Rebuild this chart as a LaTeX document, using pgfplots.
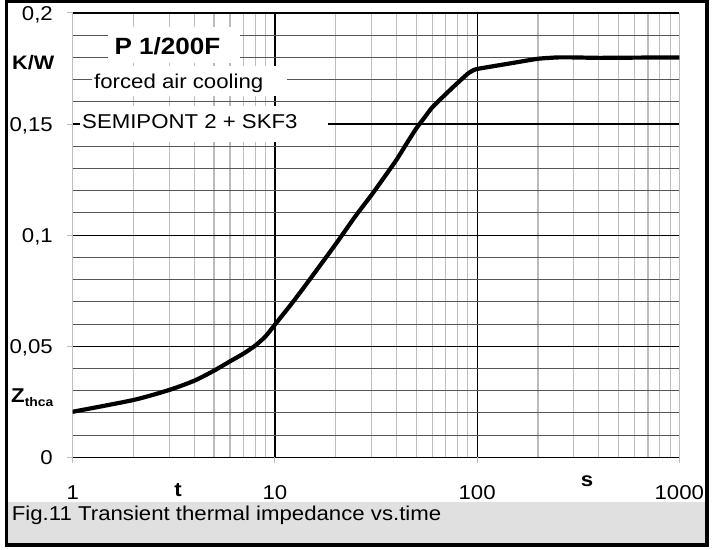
\documentclass[border=0pt]{standalone}
\usepackage{fontspec}
\setmainfont{Liberation Sans}[FakeStretch=1.11]
\usepackage{pgfplots}
\pgfplotsset{compat=1.18}
\definecolor{capgray}{HTML}{E0E0E0}
\definecolor{minorx}{HTML}{BDBDBD}
\definecolor{minory}{HTML}{555555}
\begin{document}
\begin{tikzpicture}[x=1bp,y=1bp]
\useasboundingbox (0,0) rectangle (716,550);
\fill[capgray] (6.7,5) rectangle (707,48.3);
\begin{axis}[
  at={(72.7bp,92.7bp)}, anchor=south west,
  scale only axis, width=606.6bp, height=444.3bp,
  xmode=log, xmin=1, xmax=1000, ymin=0, ymax=0.2,
  axis line style={draw=none},
  xtick={10,100}, xticklabels={10,100},
  extra x ticks={1,1000}, extra x tick labels={1,1000},
  extra x tick style={major grid style={color=minorx, line width=1.1bp}},
  minor xtick={2,3,4,5,6,7,8,9,20,30,40,50,60,70,80,90,200,300,400,500,600,700,800,900},
  ytick={0,0.05,0.1,0.15,0.2}, yticklabels={0,{0,05},{0,1},{0,15},{0,2}},
  minor ytick={0.01,0.02,0.03,0.04,0.06,0.07,0.08,0.09,0.11,0.12,0.13,0.14,0.16,0.17,0.18,0.19},
  grid=both,
  major grid style={black, line width=1.2bp},
  minor x grid style={minorx, line width=1.1bp},
  minor y grid style={minory, line width=0.9bp},
  tick align=outside, major tick length=6bp, minor tick length=0pt,
  xtick pos=bottom, ytick pos=left,
  tick style={color=minorx, line width=1bp},
  ticklabel style={font=\fontsize{20bp}{24bp}\selectfont, inner sep=0pt},
  xticklabel style={anchor=base, yshift=-36.7bp},
  yticklabel style={anchor=base east, xshift=-13.7bp, yshift=-7.7bp},
]
\addplot[black, line width=4.2bp, line join=round, line cap=round, smooth, tension=0.4] coordinates {
(1,0.0205) (2,0.0258) (3,0.0303) (4,0.0345) (5,0.039) (6,0.0432) (7,0.0467)
(8,0.0503) (9,0.0545) (10,0.0597) (12.3,0.0700) (15,0.0805) (20,0.0960)
(25,0.1085) (30,0.1180) (35,0.1265) (40,0.1340) (45,0.1415) (50,0.1480)
(55,0.1530) (60,0.1575) (70,0.1635) (80,0.1685) (90,0.1727) (94,0.1738)
};
\addplot[black, line width=4.2bp, line join=round, line cap=round, smooth, tension=0.3] coordinates {
(94,0.1738) (100,0.1748) (150,0.1775)
(200,0.1794) (250,0.1800) (300,0.1800) (400,0.1798) (600,0.1799) (1000,0.1800)
};
\end{axis}
\fill[white] (108,487) rectangle (240,523);
\fill[white] (92,454) rectangle (287,484);
\fill[white] (80,408) rectangle (328,444);
\node[anchor=base, inner sep=0] at (167.5,495) {\fontsize{23.5bp}{28bp}\selectfont\bfseries P 1/200F};
\node[anchor=base west, inner sep=0] at (94,461.7) {\fontsize{20bp}{24bp}\selectfont forced air cooling};
\node[anchor=base west, inner sep=0] at (82,421.7) {\fontsize{20bp}{24bp}\selectfont SEMIPONT 2 + SKF3};
\node[anchor=base west, inner sep=0] at (12,480) {\fontsize{19.5bp}{24bp}\selectfont\bfseries K/W};
\node[anchor=base west, inner sep=0] at (11,147) {\fontsize{20bp}{24bp}\selectfont\bfseries Z\raisebox{-4bp}{\fontsize{12.5bp}{14bp}\selectfont thca}};
\node[anchor=base, inner sep=0] at (178,53) {\fontsize{20bp}{24bp}\selectfont\bfseries t};
\node[anchor=base, inner sep=0] at (587,63) {\fontsize{20bp}{24bp}\selectfont\bfseries s};
\node[anchor=base west, inner sep=0] at (11.7,29.3) {\fontsize{20bp}{24bp}\selectfont Fig.11 Transient thermal impedance vs.time};
\draw[line width=3.5bp] (6.7,5) rectangle (707,548.7);
\end{tikzpicture}
\end{document}
